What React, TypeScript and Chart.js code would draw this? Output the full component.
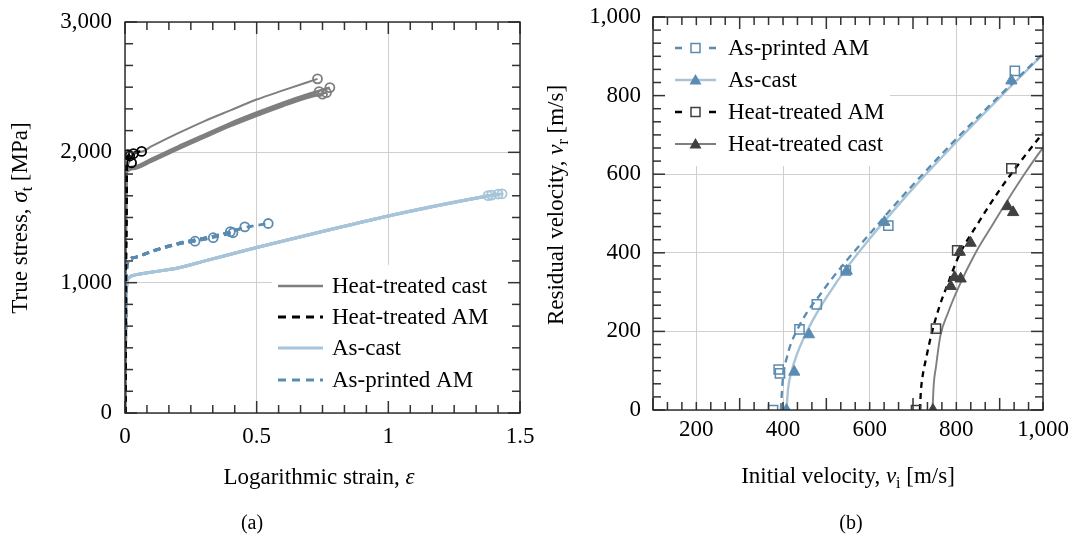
import { useEffect, useRef } from "react";
import { Chart, registerables } from "chart.js";
Chart.register(...registerables);

const SERIF = "'Liberation Serif','Times New Roman',Times,serif";
const GRAY = "#7f7f7f";
const DARK = "#404040";
const BLACK = "#000000";
const LIGHT = "#a7c4d9";
const STEEL = "#5b8bb0";
const GRID = "#cfcfcf";

// ---------- (a) true stress vs logarithmic strain ----------
const htCastStrainA = [0, 0.002, 0.004, 0.008, 0.03, 0.1, 0.2, 0.3, 0.4, 0.5, 0.6, 0.7, 0.75];
const htCastStressA = [0, 900, 1600, 1850, 1872, 1928, 2022, 2112, 2200, 2280, 2355, 2422, 2446];
const htCastStrainB = [0, 0.002, 0.004, 0.008, 0.03, 0.1, 0.2, 0.3, 0.4, 0.5, 0.6, 0.7, 0.737];
const htCastStressB = [0, 900, 1600, 1858, 1882, 1942, 2035, 2124, 2212, 2294, 2370, 2440, 2466];
const htCastStrainC = [0, 0.002, 0.004, 0.008, 0.03, 0.1, 0.2, 0.3, 0.4, 0.5, 0.6, 0.7, 0.765];
const htCastStressC = [0, 900, 1600, 1854, 1878, 1935, 2028, 2118, 2206, 2287, 2362, 2428, 2458];
const htCastStrainD = [0, 0.002, 0.004, 0.008, 0.03, 0.1, 0.2, 0.3, 0.4, 0.5, 0.6, 0.7, 0.778];
const htCastStressD = [0, 900, 1600, 1865, 1890, 1950, 2045, 2135, 2225, 2306, 2382, 2450, 2497];
const htCastStrainE = [0, 0.002, 0.004, 0.008, 0.063, 0.1, 0.2, 0.3, 0.4, 0.5, 0.6, 0.731];
const htCastStressE = [0, 900, 1600, 1880, 2005, 2045, 2145, 2238, 2322, 2405, 2475, 2564];

const htAmStrain1 = [0, 0.002, 0.004, 0.006, 0.011];
const htAmStress1 = [0, 800, 1500, 1920, 1982];
const htAmStrain2 = [0, 0.002, 0.004, 0.006, 0.025];
const htAmStress2 = [0, 800, 1500, 1880, 1920];
const htAmStrain3 = [0, 0.002, 0.004, 0.008, 0.063];
const htAmStress3 = [0, 800, 1500, 1950, 2007];
const htAmStrain4 = [0, 0.002, 0.004, 0.006, 0.018];
const htAmStress4 = [0, 800, 1500, 1930, 1972];
const htAmStrain5 = [0, 0.002, 0.004, 0.007, 0.032];
const htAmStress5 = [0, 800, 1500, 1945, 1990];

const asCastStrain1 = [0, 0.002, 0.004, 0.008, 0.015, 0.04, 0.1, 0.2, 0.3, 0.5, 0.75, 1.0, 1.2, 1.379];
const asCastStress1 = [0, 500, 850, 1000, 1040, 1060, 1080, 1113, 1165, 1270, 1393, 1512, 1595, 1668];
const asCastStrain2 = [0, 0.002, 0.004, 0.008, 0.015, 0.04, 0.1, 0.2, 0.3, 0.5, 0.75, 1.0, 1.2, 1.392];
const asCastStress2 = [0, 500, 850, 1000, 1040, 1060, 1080, 1113, 1165, 1270, 1393, 1512, 1595, 1672];
const asCastStrain3 = [0, 0.002, 0.004, 0.008, 0.015, 0.04, 0.1, 0.2, 0.3, 0.5, 0.75, 1.0, 1.2, 1.417];
const asCastStress3 = [0, 500, 850, 1000, 1040, 1060, 1080, 1113, 1165, 1270, 1393, 1512, 1598, 1680];
const asCastStrain4 = [0, 0.002, 0.004, 0.008, 0.015, 0.04, 0.1, 0.2, 0.3, 0.5, 0.75, 1.0, 1.2, 1.432];
const asCastStress4 = [0, 500, 850, 1000, 1040, 1060, 1080, 1113, 1165, 1270, 1393, 1512, 1598, 1682];

const apStrain1 = [0, 0.002, 0.004, 0.008, 0.03, 0.1, 0.16, 0.21, 0.266];
const apStress1 = [0, 500, 900, 1140, 1190, 1238, 1275, 1300, 1318];
const apStrain2 = [0, 0.002, 0.004, 0.008, 0.03, 0.1, 0.16, 0.21, 0.266, 0.335];
const apStress2 = [0, 500, 900, 1140, 1190, 1238, 1275, 1300, 1320, 1345];
const apStrain3 = [0, 0.002, 0.004, 0.008, 0.03, 0.1, 0.16, 0.21, 0.266, 0.335, 0.4];
const apStress3 = [0, 500, 900, 1140, 1190, 1240, 1278, 1305, 1328, 1356, 1391];
const apStrain4 = [0, 0.002, 0.004, 0.008, 0.03, 0.1, 0.16, 0.21, 0.266, 0.335, 0.41];
const apStress4 = [0, 500, 900, 1140, 1190, 1238, 1275, 1300, 1320, 1348, 1383];
const apStrain5 = [0, 0.002, 0.004, 0.008, 0.03, 0.1, 0.16, 0.21, 0.266, 0.335, 0.41, 0.455];
const apStress5 = [0, 500, 900, 1140, 1190, 1240, 1278, 1305, 1328, 1356, 1395, 1428];
const apStrain6 = [0, 0.002, 0.004, 0.008, 0.03, 0.1, 0.16, 0.21, 0.266, 0.335, 0.41, 0.455, 0.5, 0.544];
const apStress6 = [0, 500, 900, 1140, 1190, 1240, 1278, 1305, 1328, 1356, 1395, 1422, 1440, 1454];

const leftXTickValues = [0, 0.5, 1, 1.5];
const leftYTickValues = [0, 1000, 2000, 3000];
const leftLegendLabels = ["Heat-treated cast", "Heat-treated AM", "As-cast", "As-printed AM"];

// ---------- (b) residual velocity vs initial velocity ----------
const apVi = [377, 390, 393, 438, 478, 545, 643, 935];
const apVr = [0, 103, 93, 205, 269, 355, 469, 863];
const acVi = [408, 426, 460, 547, 634, 927];
const acVr = [0, 97, 192, 354, 478, 838];
const htAmVi = [707, 753, 802, 927];
const htAmVr = [0, 207, 406, 615];
const htCastVi = [746, 787, 796, 810, 808, 833, 918, 931];
const htCastVr = [0, 315, 338, 334, 402, 425, 518, 503];

const acFitVi = [408, 412, 420, 430, 450, 475, 500, 550, 600, 650, 700, 800, 900, 1000];
const acFitVr = [0, 57, 99, 135, 188, 241, 286, 366, 436, 501, 564, 682, 795, 905];
const apFitVi = [395, 398, 401, 408, 418, 431, 455, 480, 510, 545, 600, 650, 700, 800, 900, 1000];
const apFitVr = [0, 55, 95, 130, 168, 200, 248, 285, 330, 378, 448, 512, 573, 690, 800, 907];
const htAmFitVi = [716, 718, 722, 730, 742, 760, 780, 807, 850, 900, 950, 1000];
const htAmFitVr = [0, 45, 85, 130, 190, 260, 320, 395, 475, 560, 635, 705];
const htCastFitVi = [745, 748, 753, 763, 780, 805, 842, 880, 920, 960, 1000];
const htCastFitVr = [0, 67, 110, 188, 245, 312, 395, 465, 537, 605, 668];

const rightXTickValues = [200, 400, 600, 800, 1000];
const rightYTickValues = [0, 200, 400, 600, 800, 1000];
const rightLegendLabels = ["As-printed AM", "As-cast", "Heat-treated AM", "Heat-treated cast"];

// ---------- helpers ----------
const pts = (xs: number[], ys: number[]) => xs.map((x, i) => ({ x, y: ys[i] }));
const fmt = (v: number) => Number(v).toLocaleString("en-US");

type Seg = { t: string; it?: boolean; sub?: boolean };

function drawRich(ctx: CanvasRenderingContext2D, segs: Seg[], cx: number, cy: number, size: number, vertical: boolean) {
  ctx.save();
  ctx.translate(cx, cy);
  if (vertical) ctx.rotate(-Math.PI / 2);
  const fontFor = (s: Seg) => `${s.it ? "italic " : ""}${s.sub ? Math.round(size * 0.7) : size}px ${SERIF}`;
  let total = 0;
  const widths = segs.map((s) => {
    ctx.font = fontFor(s);
    const w = ctx.measureText(s.t).width;
    total += w;
    return w;
  });
  let x = -total / 2;
  ctx.fillStyle = "#000";
  ctx.textAlign = "left";
  ctx.textBaseline = "alphabetic";
  const base = size * 0.32;
  segs.forEach((s, i) => {
    ctx.font = fontFor(s);
    ctx.fillText(s.t, x, base + (s.sub ? size * 0.2 : 0));
    x += widths[i];
  });
  ctx.restore();
}

type LegendItem = { label: string; color: string; dash: number[]; width: number; marker?: string; markerColor?: string };
type FrameCfg = {
  box: [number, number, number, number];
  legend: LegendItem[];
  legendX0: number;
  legendX1: number;
  legendTextX: number;
  legendRows: number[];
  xTitle: Seg[];
  xTitlePos: [number, number];
  yTitle: Seg[];
  yTitlePos: [number, number];
  caption: string;
  captionPos: [number, number];
};

function drawMarker(ctx: CanvasRenderingContext2D, kind: string, x: number, y: number, color: string) {
  ctx.save();
  ctx.setLineDash([]);
  if (kind === "square") {
    ctx.strokeStyle = color;
    ctx.lineWidth = 1.5;
    ctx.strokeRect(x - 4.5, y - 4.5, 9, 9);
  } else if (kind === "triangle") {
    ctx.fillStyle = color;
    ctx.beginPath();
    ctx.moveTo(x, y - 6);
    ctx.lineTo(x + 6, y + 4.5);
    ctx.lineTo(x - 6, y + 4.5);
    ctx.closePath();
    ctx.fill();
  }
  ctx.restore();
}

// inner tick marks on all four sides (pgfplots style)
function makeTicks(xMin: number, xStep: number, xCount: number, xPer: number, yMin: number, yStep: number, yCount: number, yPer: number) {
  return {
    id: "innerTicks",
    afterDraw(chart: any) {
      const ctx: CanvasRenderingContext2D = chart.ctx;
      const a = chart.chartArea;
      const xs = chart.scales.x;
      const ys = chart.scales.y;
      ctx.save();
      ctx.fillStyle = "#333333";
      for (let k = 0; k <= xCount; k++) {
        const p = xs.getPixelForValue(xMin + k * xStep);
        const len = k % xPer === 0 ? 12 : 8;
        ctx.fillRect(p - 0.75, a.bottom - len, 1.5, len);
        ctx.fillRect(p - 0.75, a.top, 1.5, len);
      }
      for (let k = 0; k <= yCount; k++) {
        const p = ys.getPixelForValue(yMin + k * yStep);
        const len = k % yPer === 0 ? 12 : 8;
        ctx.fillRect(a.left, p - 0.75, len, 1.5);
        ctx.fillRect(a.right - len, p - 0.75, len, 1.5);
      }
      ctx.strokeStyle = "#262626";
      ctx.lineWidth = 1.4;
      ctx.strokeRect(a.left, a.top, a.right - a.left, a.bottom - a.top);
      ctx.restore();
    },
  };
}

function makeFrame(cfg: FrameCfg) {
  return {
    id: "frameDeco",
    beforeDatasetsDraw() {},
    afterDatasetsDraw(chart: any) {
      const ctx: CanvasRenderingContext2D = chart.ctx;
      const [bx, by, bw, bh] = cfg.box;
      ctx.save();
      ctx.fillStyle = "#ffffff";
      ctx.fillRect(bx, by, bw, bh);
      ctx.restore();
    },
    afterDraw(chart: any) {
      const ctx: CanvasRenderingContext2D = chart.ctx;
      cfg.legend.forEach((it, i) => {
        const y = cfg.legendRows[i];
        ctx.save();
        ctx.strokeStyle = it.color;
        ctx.lineWidth = it.width;
        if (it.marker && it.dash.length) {
          ctx.beginPath();
          ctx.moveTo(cfg.legendX0, y);
          ctx.lineTo(cfg.legendX0 + 7, y);
          ctx.moveTo(cfg.legendX1 - 7, y);
          ctx.lineTo(cfg.legendX1, y);
          ctx.stroke();
        } else {
          ctx.setLineDash(it.dash);
          ctx.beginPath();
          ctx.moveTo(cfg.legendX0, y);
          ctx.lineTo(cfg.legendX1, y);
          ctx.stroke();
        }
        ctx.restore();
        if (it.marker) drawMarker(ctx, it.marker, (cfg.legendX0 + cfg.legendX1) / 2, y, it.markerColor || it.color);
        ctx.save();
        ctx.fillStyle = "#000";
        ctx.font = `23px ${SERIF}`;
        ctx.textAlign = "left";
        ctx.textBaseline = "middle";
        ctx.fillText(it.label, cfg.legendTextX, y + 1);
        ctx.restore();
      });

      drawRich(ctx, cfg.xTitle, cfg.xTitlePos[0], cfg.xTitlePos[1], 23, false);
      drawRich(ctx, cfg.yTitle, cfg.yTitlePos[0], cfg.yTitlePos[1], 23, true);
      ctx.save();
      ctx.fillStyle = "#000";
      ctx.font = `20px ${SERIF}`;
      ctx.textAlign = "center";
      ctx.textBaseline = "middle";
      ctx.fillText(cfg.caption, cfg.captionPos[0], cfg.captionPos[1]);
      ctx.restore();
    },
  };
}

const tickFont = { family: SERIF, size: 23 };

function baseScales(opts: {
  xmin: number; xmax: number; ymin: number; ymax: number;
  xTicks: number[]; yTicks: number[]; yWidth: number; xHeight: number; xPad: number; yPad: number;
  xFmt: (v: number) => string;
}) {
  return {
    x: {
      type: "linear",
      min: opts.xmin,
      max: opts.xmax,
      afterBuildTicks: (s: any) => {
        s.ticks = opts.xTicks.map((v) => ({ value: v }));
      },
      ticks: { font: tickFont, color: "#000", padding: opts.xPad, maxRotation: 0, autoSkip: false, callback: (v: any) => opts.xFmt(Number(v)) },
      grid: { color: GRID, lineWidth: 1, drawTicks: false },
      border: { display: false },
      afterFit: (s: any) => {
        s.height = opts.xHeight;
        s.paddingLeft = 0;
        s.paddingRight = 0;
      },
    },
    y: {
      type: "linear",
      min: opts.ymin,
      max: opts.ymax,
      afterBuildTicks: (s: any) => {
        s.ticks = opts.yTicks.map((v) => ({ value: v }));
      },
      ticks: { font: tickFont, color: "#000", padding: opts.yPad, autoSkip: false, callback: (v: any) => fmt(Number(v)) },
      grid: { color: GRID, lineWidth: 1, drawTicks: false },
      border: { display: false },
      afterFit: (s: any) => {
        s.width = opts.yWidth;
        s.paddingTop = 0;
        s.paddingBottom = 0;
      },
    },
  };
}

function stressCurve(label: string, xs: number[], ys: number[], color: string, dash: number[], width: number) {
  const last = xs.length - 1;
  return {
    label,
    data: pts(xs, ys),
    borderColor: color,
    borderWidth: width,
    borderDash: dash,
    cubicInterpolationMode: "monotone",
    fill: false,
    pointRadius: (c: any) => (c.dataIndex === last ? 4.5 : 0),
    pointBorderWidth: 1.8,
    pointBorderColor: color,
    pointBackgroundColor: "rgba(255,255,255,0)",
    pointStyle: "circle",
  };
}

function LeftChart() {
  const ref = useRef<HTMLCanvasElement>(null);
  useEffect(() => {
    if (!ref.current) return;
    const datasets: any[] = [
      stressCurve("Heat-treated AM", htAmStrain1, htAmStress1, BLACK, [6, 5], 2.6),
      stressCurve("Heat-treated AM", htAmStrain2, htAmStress2, BLACK, [6, 5], 2.6),
      stressCurve("Heat-treated AM", htAmStrain3, htAmStress3, BLACK, [6, 5], 2.6),
      stressCurve("Heat-treated AM", htAmStrain4, htAmStress4, BLACK, [6, 5], 2.6),
      stressCurve("Heat-treated AM", htAmStrain5, htAmStress5, BLACK, [6, 5], 2.6),
      stressCurve("Heat-treated cast", htCastStrainA, htCastStressA, GRAY, [], 2.4),
      stressCurve("Heat-treated cast", htCastStrainB, htCastStressB, GRAY, [], 2.4),
      stressCurve("Heat-treated cast", htCastStrainC, htCastStressC, GRAY, [], 2.4),
      stressCurve("Heat-treated cast", htCastStrainD, htCastStressD, GRAY, [], 2.4),
      stressCurve("Heat-treated cast", htCastStrainE, htCastStressE, GRAY, [], 2.0),
      stressCurve("As-printed AM", apStrain1, apStress1, STEEL, [7, 5], 2.8),
      stressCurve("As-printed AM", apStrain2, apStress2, STEEL, [7, 5], 2.8),
      stressCurve("As-printed AM", apStrain3, apStress3, STEEL, [7, 5], 2.8),
      stressCurve("As-printed AM", apStrain4, apStress4, STEEL, [7, 5], 2.8),
      stressCurve("As-printed AM", apStrain5, apStress5, STEEL, [7, 5], 2.8),
      stressCurve("As-printed AM", apStrain6, apStress6, STEEL, [7, 5], 2.8),
      stressCurve("As-cast", asCastStrain1, asCastStress1, LIGHT, [], 3),
      stressCurve("As-cast", asCastStrain2, asCastStress2, LIGHT, [], 3),
      stressCurve("As-cast", asCastStrain3, asCastStress3, LIGHT, [], 3),
      stressCurve("As-cast", asCastStrain4, asCastStress4, LIGHT, [], 3),
    ];
    const frame = makeFrame({
      box: [272, 265, 240, 136],
      legend: [
        { label: leftLegendLabels[0], color: GRAY, dash: [], width: 2.6 },
        { label: leftLegendLabels[1], color: BLACK, dash: [8, 6], width: 3 },
        { label: leftLegendLabels[2], color: LIGHT, dash: [], width: 3 },
        { label: leftLegendLabels[3], color: STEEL, dash: [8, 6], width: 3 },
      ],
      legendX0: 278,
      legendX1: 323,
      legendTextX: 332,
      legendRows: [286, 317, 348, 380],
      xTitle: [{ t: "Logarithmic strain, " }, { t: "ε", it: true }],
      xTitlePos: [319, 477],
      yTitle: [{ t: "True stress, " }, { t: "σ", it: true }, { t: "t", sub: true }, { t: " [MPa]" }],
      yTitlePos: [20, 218],
      caption: "(a)",
      captionPos: [252, 524],
    });
    const ticks = makeTicks(0, 0.5 / 6, 18, 6, 0, 1000 / 6, 18, 6);
    const chart = new Chart(ref.current, {
      type: "line",
      data: { datasets },
      options: {
        animation: false,
        responsive: false,
        maintainAspectRatio: false,
        layout: { padding: { left: 0, top: 22, right: 20, bottom: 0 } },
        plugins: { legend: { display: false }, tooltip: { enabled: false } },
        scales: baseScales({
          xmin: 0, xmax: 1.5, ymin: 0, ymax: 3000,
          xTicks: leftXTickValues, yTicks: leftYTickValues,
          yWidth: 125, xHeight: 126, xPad: 10, yPad: 13,
          xFmt: (v) => String(v),
        }) as any,
      } as any,
      plugins: [frame as any, ticks as any],
    });
    return () => chart.destroy();
  }, []);
  return <canvas ref={ref} width={540} height={539} style={{ position: "absolute", left: 0, top: 0, width: 540, height: 539 }} />;
}

function RightChart() {
  const ref = useRef<HTMLCanvasElement>(null);
  useEffect(() => {
    if (!ref.current) return;
    const marks = (label: string, xs: number[], ys: number[], style: string, color: string, radius: number) => ({
      label,
      data: pts(xs, ys),
      showLine: false,
      pointStyle: style,
      pointRadius: radius,
      pointBorderWidth: style === "rect" ? 1.5 : 1,
      pointBorderColor: color,
      pointBackgroundColor: style === "rect" ? "rgba(255,255,255,0)" : color,
    });
    const fit = (label: string, xs: number[], ys: number[], color: string, dash: number[], width: number) => ({
      label,
      data: pts(xs, ys),
      borderColor: color,
      borderWidth: width,
      borderDash: dash,
      cubicInterpolationMode: "monotone",
      pointRadius: 0,
      fill: false,
    });
    const datasets: any[] = [
      marks("Heat-treated cast", htCastVi, htCastVr, "triangle", DARK, 6.5),
      marks("Heat-treated AM", htAmVi, htAmVr, "rect", DARK, 6.5),
      marks("As-cast", acVi, acVr, "triangle", STEEL, 6.5),
      marks("As-printed AM", apVi, apVr, "rect", STEEL, 6.5),
      fit("Heat-treated AM fit", htAmFitVi, htAmFitVr, BLACK, [6, 5], 2.3),
      fit("Heat-treated cast fit", htCastFitVi, htCastFitVr, GRAY, [], 1.9),
      fit("As-printed AM fit", apFitVi, apFitVr, STEEL, [7, 5], 2.3),
      fit("As-cast fit", acFitVi, acFitVr, LIGHT, [], 2.4),
    ];
    const frame = makeFrame({
      box: [120, 26, 230, 140],
      legend: [
        { label: rightLegendLabels[0], color: STEEL, dash: [6, 5], width: 2.3, marker: "square", markerColor: STEEL },
        { label: rightLegendLabels[1], color: LIGHT, dash: [], width: 2.4, marker: "triangle", markerColor: STEEL },
        { label: rightLegendLabels[2], color: BLACK, dash: [6, 5], width: 2.3, marker: "square", markerColor: DARK },
        { label: rightLegendLabels[3], color: GRAY, dash: [], width: 2.2, marker: "triangle", markerColor: DARK },
      ],
      legendX0: 135,
      legendX1: 176,
      legendTextX: 188,
      legendRows: [48, 80, 112, 144],
      xTitle: [{ t: "Initial velocity, " }, { t: "v", it: true }, { t: "i", sub: true }, { t: " [m/s]" }],
      xTitlePos: [308, 476],
      yTitle: [{ t: "Residual velocity, " }, { t: "v", it: true }, { t: "r", sub: true }, { t: " [m/s]" }],
      yTitlePos: [16, 205],
      caption: "(b)",
      captionPos: [311, 524],
    });
    const ticks = makeTicks(100, 200 / 6, 27, 6, 0, 200 / 6, 30, 6);
    const chart = new Chart(ref.current, {
      type: "line",
      data: { datasets },
      options: {
        animation: false,
        responsive: false,
        maintainAspectRatio: false,
        layout: { padding: { left: 0, top: 17, right: 39, bottom: 0 } },
        plugins: { legend: { display: false }, tooltip: { enabled: false } },
        scales: baseScales({
          xmin: 100, xmax: 1000, ymin: 0, ymax: 1000,
          xTicks: rightXTickValues, yTicks: rightYTickValues,
          yWidth: 113, xHeight: 129, xPad: 6, yPad: 12,
          xFmt: (v) => fmt(v),
        }) as any,
      } as any,
      plugins: [frame as any, ticks as any],
    });
    return () => chart.destroy();
  }, []);
  return <canvas ref={ref} width={542} height={539} style={{ position: "absolute", left: 540, top: 0, width: 542, height: 539 }} />;
}

export default function App() {
  return (
    <div style={{ position: "absolute", left: 0, top: 0, width: 1082, height: 539, background: "#fff", overflow: "hidden" }}>
      <LeftChart />
      <RightChart />
    </div>
  );
}
